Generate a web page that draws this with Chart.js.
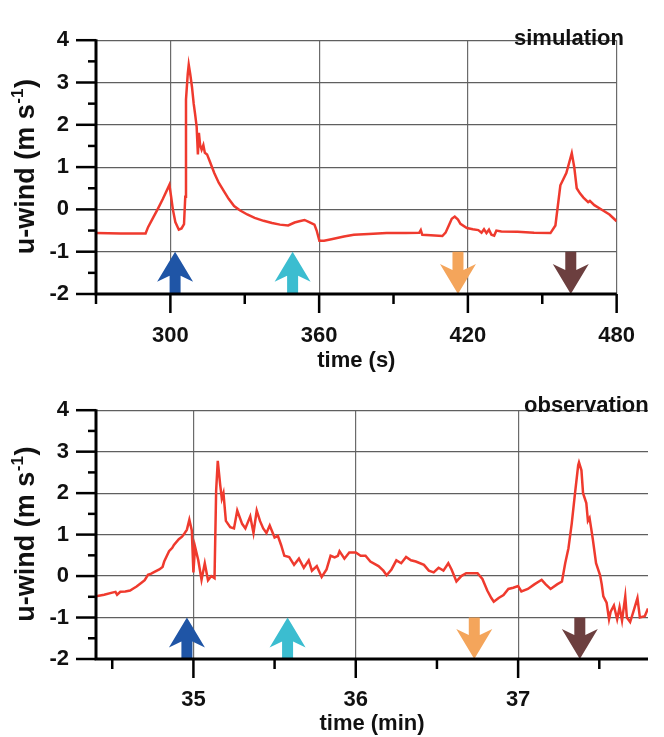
<!DOCTYPE html>
<html lang="en">
<head>
<meta charset="UTF-8">
<title>u-wind: simulation and observation</title>
<script src="https://cdn.jsdelivr.net/npm/chart.js"></script>
<style>
  html, body { margin: 0; padding: 0; background: #fff; }
  .panel { position: absolute; left: 0; width: 664px; }
  #topPanel { top: 0; height: 380px; }
  #botPanel { top: 370px; height: 367px; }
</style>
</head>
<body>
<div class="panel" id="topPanel"><canvas id="simChart"></canvas></div>
<div class="panel" id="botPanel"><canvas id="obsChart"></canvas></div>

<script>
// simulation, time in seconds
const simTime = [270, 280, 290, 291, 293, 295, 297, 299.6, 300.3, 301, 302, 303.4, 304.5, 305.5,
  306.0, 306.3, 307.0, 307.4, 308.0, 308.7, 309.4, 310.0, 310.6, 311.1, 311.5, 312.0, 312.6, 313.3, 313.9,
  314.8, 315.8, 317.7, 319.5, 321.7, 323.5, 325.7, 328, 331, 334, 337.6, 341, 344.2, 347.5, 350.1, 352,
  354.1, 356, 358.1, 359, 360.1, 362, 365.4, 370, 374, 380, 387.2, 395, 400.4, 401, 401.6, 405, 409.7,
  411, 412.3, 413.5, 414.7, 416, 417, 419.6, 422, 424.2, 425.5, 426.5, 427.5, 428.5, 429.5, 430.6, 431.5,
  433.5, 440, 446.7, 453.3, 455.3, 457.3, 459.7, 461.9, 462.9, 463.9, 465.2, 466.6, 468.5, 469.2, 471,
  473.2, 477.1, 480];
const simWind = [-0.56, -0.57, -0.57, -0.42, -0.2, 0.02, 0.25, 0.58, 0.3, 0.0, -0.3, -0.48, -0.45, -0.35,
  0.3, 2.6, 3.2, 3.42, 3.2, 2.9, 2.5, 2.24, 1.95, 1.3, 1.81, 1.52, 1.41, 1.52, 1.34,
  1.3, 1.15, 0.86, 0.63, 0.42, 0.25, 0.08, -0.02, -0.12, -0.2, -0.27, -0.32, -0.36, -0.38, -0.31, -0.28,
  -0.25, -0.3, -0.36, -0.5, -0.74, -0.74, -0.7, -0.64, -0.6, -0.58, -0.56, -0.56, -0.55, -0.49, -0.6, -0.61, -0.63,
  -0.55, -0.38, -0.22, -0.17, -0.24, -0.34, -0.44, -0.47, -0.49, -0.55, -0.47, -0.56, -0.48, -0.6, -0.62, -0.5,
  -0.52, -0.53, -0.55, -0.56, -0.38, 0.57, 0.86, 1.33, 1.0, 0.5, 0.38, 0.28, 0.17, 0.2, 0.1,
  0.02, -0.12, -0.28];

// observation, time in minutes
const obsTime = [34.40, 34.45, 34.50, 34.52, 34.53, 34.55, 34.58, 34.61, 34.63, 34.65, 34.68, 34.70, 34.72,
  34.74, 34.76, 34.79, 34.81, 34.82, 34.85, 34.87, 34.88, 34.91, 34.93, 34.94, 34.96, 34.975, 34.99, 35.0,
  35.01, 35.03, 35.05, 35.07, 35.09, 35.11, 35.13, 35.14, 35.15, 35.165, 35.175, 35.185, 35.20, 35.227,
  35.25, 35.27, 35.30, 35.32, 35.35, 35.37, 35.39, 35.41, 35.43, 35.45, 35.47, 35.50, 35.52, 35.54, 35.56,
  35.59, 35.62, 35.65, 35.68, 35.71, 35.73, 35.76, 35.79, 35.82, 35.845, 35.87, 35.89, 35.90, 35.93, 35.96,
  36.0, 36.03, 36.06, 36.09, 36.14, 36.17, 36.19, 36.22, 36.25, 36.28, 36.31, 36.34, 36.37, 36.42, 36.45,
  36.48, 36.51, 36.54, 36.57, 36.59, 36.62, 36.65, 36.68, 36.75, 36.78, 36.81, 36.835, 36.85, 36.88, 36.91,
  36.94, 36.97, 37.0, 37.02, 37.06, 37.10, 37.145, 37.17, 37.20, 37.24, 37.27, 37.29, 37.31, 37.33, 37.35,
  37.37, 37.375, 37.39, 37.40, 37.42, 37.43, 37.44, 37.45, 37.46, 37.48, 37.505, 37.515, 37.525, 37.545,
  37.56, 37.57, 37.59, 37.61, 37.625, 37.64, 37.66, 37.67, 37.69, 37.71, 37.735, 37.75, 37.78, 37.80];
const obsWind = [-0.49, -0.45, -0.40, -0.38, -0.45, -0.38, -0.37, -0.35, -0.3, -0.25, -0.16, -0.1, 0.03,
  0.06, 0.1, 0.16, 0.22, 0.35, 0.6, 0.68, 0.75, 0.89, 0.95, 1.0, 1.12, 1.36, 1.1, 0.09,
  0.71, 0.38, -0.09, 0.31, -0.1, 0.0, -0.05, 2.06, 2.78, 2.2, 1.87, 2.0, 1.33, 1.18,
  1.15, 1.58, 1.26, 1.15, 1.44, 1.04, 1.58, 1.33, 1.15, 1.04, 1.22, 0.93, 0.97, 0.75, 0.49,
  0.46, 0.27, 0.42, 0.2, 0.38, 0.13, 0.24, -0.02, 0.16, 0.49, 0.45, 0.49, 0.6, 0.42, 0.57,
  0.57, 0.49, 0.49, 0.35, 0.24, 0.13, 0.02, 0.16, 0.38, 0.31, 0.46, 0.38, 0.35, 0.27, 0.13,
  0.09, 0.2, 0.13, 0.31, 0.16, -0.13, 0.0, 0.07, 0.07, -0.07, -0.35, -0.53, -0.62, -0.53, -0.46,
  -0.31, -0.28, -0.24, -0.37, -0.31, -0.2, -0.09, -0.2, -0.31, -0.2, -0.13, 0.31, 0.67, 1.26, 1.98,
  2.67, 2.74, 2.55, 2.0, 1.76, 1.33, 1.4, 1.15, 0.89, 0.31, 0.02, -0.2, -0.49, -0.64,
  -1.04, -0.86, -0.71, -1.04, -0.75, -1.07, -0.49, -1.0, -1.11, -0.86, -0.53, -1.0, -0.97, -0.78];

// coloured arrows (between -1 and -2)
const simArrowTime = [301.9, 349.3, 416, 461.5];
const obsArrowTime = [34.96, 35.58, 36.73, 37.38];
const arrowDir = ['up', 'up', 'down', 'down'];
const arrowColors = ['#1f55a6', '#3bbdd0', '#f4a55b', '#6c3f3f'];

// tick labels
const yLabels = [-2, -1, 0, 1, 2, 3, 4];
const simXLabels = [300, 360, 420, 480];
const obsXLabels = [35, 36, 37];

const FONT = "'Liberation Sans', Arial, sans-serif";
const near = (a, b) => Math.abs(a - b) < 1e-6;
const isLabel = (list, v) => list.some(l => near(l, v));

function drawArrow(ctx, px, yTop, yBot, dir, color) {
  const hw = 18, sw = 5.5, head = 30, barb = 24;
  ctx.save();
  ctx.fillStyle = color;
  ctx.beginPath();
  if (dir === 'up') {
    ctx.moveTo(px, yTop);
    ctx.lineTo(px + hw, yTop + head);
    ctx.lineTo(px + sw, yTop + barb);
    ctx.lineTo(px + sw, yBot);
    ctx.lineTo(px - sw, yBot);
    ctx.lineTo(px - sw, yTop + barb);
    ctx.lineTo(px - hw, yTop + head);
  } else {
    ctx.moveTo(px, yBot);
    ctx.lineTo(px + hw, yBot - head);
    ctx.lineTo(px + sw, yBot - barb);
    ctx.lineTo(px + sw, yTop);
    ctx.lineTo(px - sw, yTop);
    ctx.lineTo(px - sw, yBot - barb);
    ctx.lineTo(px - hw, yBot - head);
  }
  ctx.closePath();
  ctx.fill();
  ctx.restore();
}

// arrows, axes, tick marks, titles
const decor = {
  id: 'decor',
  beforeDatasetsDraw(chart, args, opts) {
    const { ctx, scales: { x, y } } = chart;
    opts.arrowTime.forEach((t, i) => {
      drawArrow(ctx, x.getPixelForValue(t), y.getPixelForValue(-1), y.getPixelForValue(-2),
        arrowDir[i], arrowColors[i]);
    });
  },
  afterDraw(chart, args, opts) {
    const { ctx, chartArea: a, scales: { x, y } } = chart;
    ctx.save();
    ctx.strokeStyle = '#000';
    ctx.lineCap = 'butt';

    // tick marks
    ctx.lineWidth = 2.5;
    y.ticks.forEach(t => {
      const py = y.getPixelForValue(t.value);
      const len = isLabel(yLabels, t.value) ? 20 : 8;
      ctx.beginPath(); ctx.moveTo(a.left - len, py); ctx.lineTo(a.left, py); ctx.stroke();
    });
    x.ticks.forEach(t => {
      const px = x.getPixelForValue(t.value);
      const len = isLabel(opts.xLabels, t.value) ? 19 : 10;
      ctx.beginPath(); ctx.moveTo(px, a.bottom); ctx.lineTo(px, a.bottom + len); ctx.stroke();
    });

    // axis lines
    ctx.lineWidth = 3;
    ctx.beginPath();
    ctx.moveTo(a.left, a.top - 1);
    ctx.lineTo(a.left, a.bottom);
    ctx.lineTo(a.right, a.bottom);
    ctx.stroke();

    // x title
    ctx.fillStyle = '#111';
    ctx.font = 'bold 22px ' + FONT;
    ctx.textAlign = 'center';
    ctx.textBaseline = 'middle';
    ctx.fillText(opts.xTitle, (a.left + a.right) / 2, opts.xTitleY);

    // y title with superscript, rotated
    ctx.save();
    ctx.translate(24, (a.top + a.bottom) / 2);
    ctx.rotate(-Math.PI / 2);
    const main = 'u-wind (m s', sup = '-1', close = ')';
    const big = 'bold 27px ' + FONT, small = 'bold 17px ' + FONT;
    ctx.font = big;
    const w1 = ctx.measureText(main).width, w3 = ctx.measureText(close).width;
    ctx.font = small;
    const w2 = ctx.measureText(sup).width;
    const sx = -(w1 + w2 + w3) / 2;
    ctx.textAlign = 'left';
    ctx.textBaseline = 'alphabetic';
    ctx.font = big;
    ctx.fillText(main, sx, 10);
    ctx.font = small;
    ctx.fillText(sup, sx + w1 + 0.5, -1);
    ctx.font = big;
    ctx.fillText(close, sx + w1 + w2 + 1, 10);
    ctx.restore();

    // panel label
    ctx.font = 'bold 22px ' + FONT;
    ctx.textBaseline = 'alphabetic';
    ctx.textAlign = opts.cornerAlign;
    ctx.fillText(opts.corner, opts.cornerX, opts.cornerY);
    ctx.restore();
  }
};

function makeChart(id, c) {
  return new Chart(document.getElementById(id), {
    type: 'line',
    data: {
      datasets: [{
        data: c.time.map((t, i) => ({ x: t, y: c.wind[i] })),
        borderColor: '#ef3a2e',
        borderWidth: 2.5,
        pointRadius: 0,
        tension: 0
      }]
    },
    options: {
      responsive: true,
      maintainAspectRatio: false,
      animation: false,
      layout: { padding: { left: 0, right: c.padRight, top: c.padTop, bottom: 0 } },
      plugins: {
        legend: { display: false },
        tooltip: { enabled: false },
        decor: c.decor
      },
      scales: {
        x: {
          type: 'linear',
          min: c.xMin,
          max: c.xMax,
          afterFit: s => { s.height = c.xHeight; },
          border: { display: false },
          grid: {
            drawTicks: false,
            lineWidth: 1.2,
            color: g => (g.tick && isLabel(c.xLabels, g.tick.value)) ? '#6b6b6b' : 'rgba(0,0,0,0)'
          },
          ticks: {
            stepSize: c.xStep,
            includeBounds: false,
            autoSkip: false,
            maxRotation: 0,
            padding: c.xPad,
            color: '#111',
            font: { family: FONT, size: 22, weight: 'bold' },
            callback: v => isLabel(c.xLabels, v) ? String(Math.round(v)) : ''
          }
        },
        y: {
          min: -2,
          max: 4,
          afterFit: s => { s.width = 96; },
          border: { display: false },
          grid: {
            drawTicks: false,
            lineWidth: 1.2,
            color: g => (g.tick && isLabel(yLabels, g.tick.value)) ? '#5f5f5f' : 'rgba(0,0,0,0)'
          },
          ticks: {
            stepSize: 0.5,
            autoSkip: false,
            padding: 27,
            color: '#111',
            font: { family: FONT, size: 22, weight: 'bold' },
            callback: v => isLabel(yLabels, v) ? String(Math.round(v)) : ''
          }
        }
      }
    },
    plugins: [decor]
  });
}

makeChart('simChart', {
  time: simTime, wind: simWind, xMin: 270, xMax: 480, xStep: 30, xLabels: simXLabels,
  padTop: 19, padRight: 37, xHeight: 86, xPad: 29,
  decor: { arrowTime: simArrowTime, xLabels: simXLabels, xTitle: 'time (s)', xTitleY: 361,
    corner: 'simulation', cornerAlign: 'right', cornerX: 624, cornerY: 45 }
});

makeChart('obsChart', {
  time: obsTime, wind: obsWind, xMin: 34.4, xMax: 37.8, xStep: 0.5, xLabels: obsXLabels,
  padTop: 14, padRight: 16, xHeight: 78, xPad: 28,
  decor: { arrowTime: obsArrowTime, xLabels: obsXLabels, xTitle: 'time (min)', xTitleY: 354,
    corner: 'observation', cornerAlign: 'left', cornerX: 524, cornerY: 42 }
});
</script>
</body>
</html>
